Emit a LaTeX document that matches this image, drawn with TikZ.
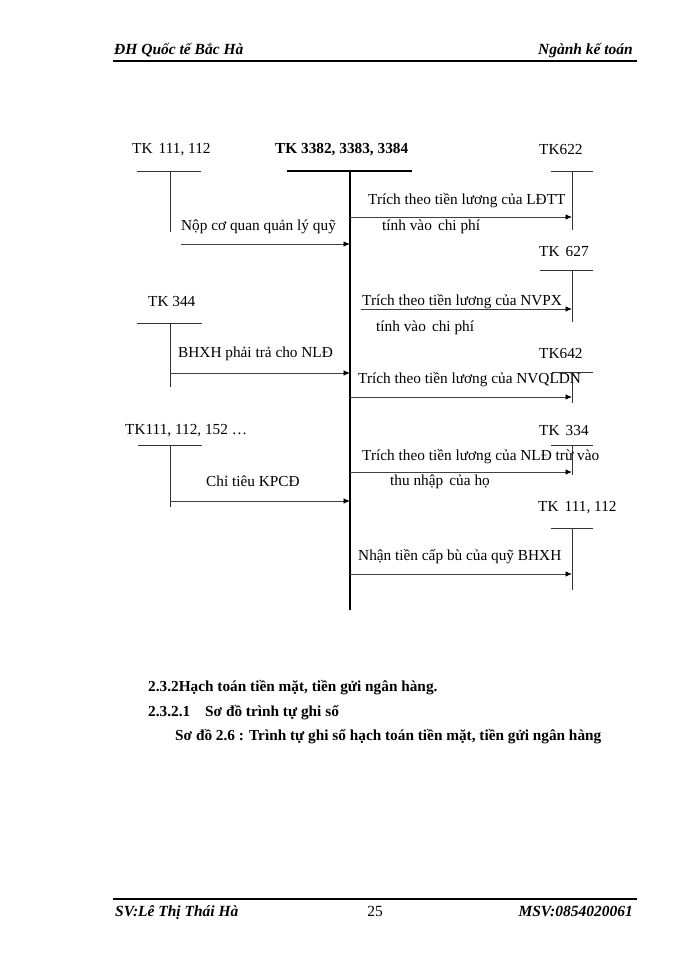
\documentclass[tikz,border=0pt]{standalone}
\usepackage{fontspec}
\setmainfont{Liberation Serif}
\usetikzlibrary{arrows.meta}
\begin{document}
\begin{tikzpicture}[x=1pt,y=-1pt,
  lbl/.style={anchor=west,inner sep=0pt,yshift=-1.5pt,font=\fontsize{15.3}{17}\selectfont},
  hdr/.style={anchor=base west,inner sep=0pt,font=\fontsize{15.5}{17}\selectfont\bfseries\itshape},
  sec/.style={anchor=base west,inner sep=0pt,font=\fontsize{15.3}{17}\selectfont\bfseries},
  acct/.style={line width=0.9pt,draw=black!80},
  mainacct/.style={line width=2pt},
  flow/.style={line width=0.9pt,draw=black!75,-{Latex[length=6.5pt,width=5.5pt,fill=black,color=black]}},
  rule/.style={line width=1.6pt}]
\useasboundingbox (0,0) rectangle (700,960);
% header and footer
\node[hdr] (h1) at (114,55) {ĐH Quốc tế Bắc Hà};
\node[hdr,anchor=base east] (h2) at (633,55) {Ngành kế toán};
\coordinate (hl1) at (113,61); \coordinate (hl2) at (637,61);
\draw[rule] (hl1) -- (hl2);
\coordinate (fl1) at (113,899); \coordinate (fl2) at (637,899);
\draw[rule] (fl1) -- (fl2);
\node[hdr] (f1) at (115,916) {SV:Lê Thị Thái Hà};
\node[anchor=base,inner sep=0pt,font=\fontsize{15.5}{17}\selectfont] (f2) at (375,916) {25};
\node[hdr,anchor=base east] (f3) at (633,916) {MSV:0854020061};
% account labels
\node[lbl] (t1) at (132,148) {TK\hspace{0.4em}111, 112};
\node[lbl,font=\fontsize{15.3}{17}\selectfont\bfseries] (tm) at (275,148) {TK 3382, 3383, 3384};
\node[lbl] (t622) at (539,148) {TK622};
\node[lbl] (t627) at (539,250) {TK\hspace{0.4em}627};
\node[lbl] (t344) at (148,300) {TK 344};
\node[lbl] (t642) at (539,352) {TK642};
\node[lbl] (t152) at (125,429) {TK111, 112, 152 \dots};
\node[lbl] (t334) at (539,429) {TK\hspace{0.4em}334};
\node[lbl] (t112) at (538,506) {TK\hspace{0.4em}111, 112};
% main T account
\coordinate (mL) at (287,171); \coordinate (mR) at (412,171);
\coordinate (mT) at (350,171); \coordinate (mB) at (350,610);
\draw[mainacct] (mL) -- (mR);
\draw[mainacct] (mT) -- (mB);
% left T accounts
\coordinate (aL) at (137,171); \coordinate (aR) at (201,171);
\coordinate (aT) at (170,171); \coordinate (aB) at (170,232);
\draw[acct] (aL) -- (aR); \draw[acct] (aT) -- (aB);
\coordinate (bL) at (137,323); \coordinate (bR) at (202,323);
\coordinate (bT) at (170,323); \coordinate (bB) at (170,387);
\draw[acct] (bL) -- (bR); \draw[acct] (bT) -- (bB);
\coordinate (cL) at (138,445); \coordinate (cR) at (202,445);
\coordinate (cT) at (170,445); \coordinate (cB) at (170,507);
\draw[acct] (cL) -- (cR); \draw[acct] (cT) -- (cB);
% right T accounts
\coordinate (dL) at (551,171); \coordinate (dR) at (593,171);
\coordinate (dT) at (572,171); \coordinate (dB) at (572,230);
\draw[acct] (dL) -- (dR); \draw[acct] (dT) -- (dB);
\coordinate (eL) at (540,270); \coordinate (eR) at (593,270);
\coordinate (eT) at (572,270); \coordinate (eB) at (572,322);
\draw[acct] (eL) -- (eR); \draw[acct] (eT) -- (eB);
\coordinate (gL) at (552,372); \coordinate (gR) at (593,372);
\coordinate (gT) at (572,372); \coordinate (gB) at (572,403);
\draw[acct] (gL) -- (gR); \draw[acct] (gT) -- (gB);
\coordinate (kL) at (551,445); \coordinate (kR) at (593,445);
\coordinate (kT) at (572,445); \coordinate (kB) at (572,475);
\draw[acct] (kL) -- (kR); \draw[acct] (kT) -- (kB);
\coordinate (nL) at (551,528); \coordinate (nR) at (593,528);
\coordinate (nT) at (572,528); \coordinate (nB) at (572,590);
\draw[acct] (nL) -- (nR); \draw[acct] (nT) -- (nB);
% flows into main account
\coordinate (s1) at (181,244); \coordinate (e1) at (350,244);
\draw[flow] (s1) -- (e1);
\node[lbl] (l1) at (181,225) {Nộp cơ quan quản lý quỹ};
\coordinate (s2) at (170,373); \coordinate (e2) at (350,373);
\draw[flow] (s2) -- (e2);
\node[lbl] (l2) at (178,352) {BHXH phải trả cho NLĐ};
\coordinate (s3) at (170,501); \coordinate (e3) at (350,501);
\draw[flow] (s3) -- (e3);
\node[lbl] (l3) at (206,480) {Chỉ tiêu KPCĐ};
% flows out of main account
\coordinate (s4) at (350,217); \coordinate (e4) at (572,217);
\draw[flow] (s4) -- (e4);
\node[lbl] (l4) at (368,199) {Trích theo tiền lương của LĐTT};
\node[lbl] (l4b) at (382,225) {tính vào\hspace{0.4em}chi phí};
\coordinate (s5) at (361,309); \coordinate (e5) at (572,309);
\draw[flow] (s5) -- (e5);
\node[lbl] (l5) at (362,300) {Trích theo tiền lương của NVPX};
\node[lbl] (l5b) at (376,326) {tính vào\hspace{0.4em}chi phí};
\coordinate (s6) at (350,397); \coordinate (e6) at (572,397);
\draw[flow] (s6) -- (e6);
\node[lbl] (l6) at (358,378) {Trích theo tiền lương của NVQLDN};
\coordinate (s7) at (350,472); \coordinate (e7) at (572,472);
\draw[flow] (s7) -- (e7);
\node[lbl] (l7) at (362,455) {Trích theo tiền lương của NLĐ trừ vào};
\node[lbl] (l7b) at (390,480) {thu nhập\hspace{0.4em}của họ};
\coordinate (s8) at (350,574); \coordinate (e8) at (572,574);
\draw[flow] (s8) -- (e8);
\node[lbl] (l8) at (358,555) {Nhận tiền cấp bù của quỹ BHXH};
% section text
\node[sec] (p1) at (148,691) {2.3.2Hạch toán tiền mặt, tiền gửi ngân hàng.};
\node[sec] (p2) at (148,716) {2.3.2.1};
\node[sec] (p2b) at (205,716) {Sơ đồ trình tự ghi sổ};
\node[sec] (p3) at (175,740) {Sơ đồ 2.6 : Trình tự ghi sổ hạch toán tiền mặt, tiền gửi ngân hàng};
\end{tikzpicture}
\end{document}
